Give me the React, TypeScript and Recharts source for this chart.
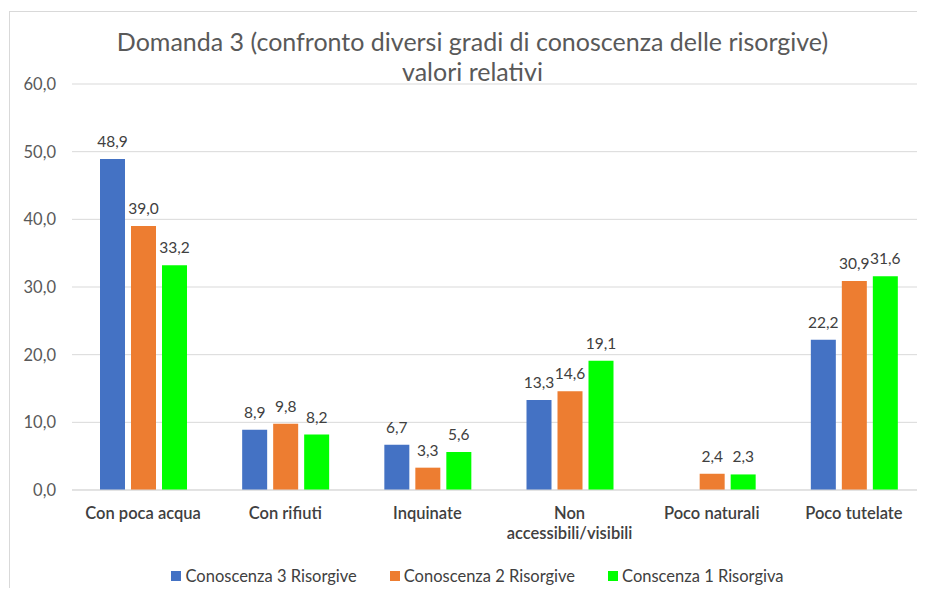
import { BarChart, Bar, XAxis, YAxis, CartesianGrid, Legend, LabelList, Text } from "recharts";

const categories = [
  "Con poca acqua",
  "Con rifiuti",
  "Inquinate",
  "Non accessibili/visibili",
  "Poco naturali",
  "Poco tutelate",
];
const conoscenza3 = [48.9, 8.9, 6.7, 13.3, null, 22.2];
const conoscenza2 = [39.0, 9.8, 3.3, 14.6, 2.4, 30.9];
const conoscenza1 = [33.2, 8.2, 5.6, 19.1, 2.3, 31.6];
const yTicks = [0, 10, 20, 30, 40, 50, 60];

const series = [
  { key: "c3", name: "Conoscenza 3 Risorgive", color: "#4472C4" },
  { key: "c2", name: "Conoscenza 2 Risorgive", color: "#ED7D31" },
  { key: "c1", name: "Conscenza 1 Risorgiva", color: "#00FF00" },
];

const data = categories.map((name, i) => ({
  name,
  c3: conoscenza3[i],
  c2: conoscenza2[i],
  c1: conoscenza1[i],
}));

const FONT = "Lato, 'Open Sans', sans-serif";
const fmt = (v: any) => (v == null ? "" : Number(v).toFixed(1).replace(".", ","));

// category label, wraps long names like Excel does
const CategoryTick = (props: any) => {
  const { x, y, payload } = props;
  return (
    <Text
      x={x}
      y={y}
      width={140}
      textAnchor="middle"
      verticalAnchor="start"
      lineHeight={20}
      fontSize={16.5}
      fontWeight={600}
      fill="#404040"
      fontFamily={FONT}
    >
      {payload.value}
    </Text>
  );
};

const LegendContent = () => (
  <div
    style={{
      display: "flex",
      justifyContent: "center",
      gap: 33,
      paddingLeft: 22,
      fontFamily: FONT,
      fontSize: 16.5,
      color: "#404040",
    }}
  >
    {series.map((s) => (
      <div key={s.key} style={{ display: "flex", alignItems: "center", gap: 4 }}>
        <span style={{ width: 10, height: 10, background: s.color, display: "inline-block" }} />
        <span>{s.name}</span>
      </div>
    ))}
  </div>
);

export default function App() {
  return (
    <div style={{ position: "relative", width: 909, height: 580, background: "#fff" }}>
      <style>{"html, body { overflow: hidden; }"}</style>
      <div style={{ position: "absolute", left: 0, top: 0, width: 917, height: 580, overflow: "hidden" }}>
        {/* chart frame, only left and top edges are in view */}
        <div style={{ position: "absolute", left: 1, top: 3, width: 1, height: 600, background: "#d9d9d9" }} />
        <div style={{ position: "absolute", left: 1, top: 3, width: 950, height: 1, background: "#d9d9d9" }} />
        <div
          style={{
            position: "absolute",
            left: 0,
            top: 18,
            width: 929,
            textAlign: "center",
            fontFamily: FONT,
            fontSize: 25,
            lineHeight: "30px",
            color: "#595959",
            zIndex: 1,
          }}
        >
          Domanda 3 (confronto diversi gradi di conoscenza delle risorgive)
          <br />
          valori relativi
        </div>
        <BarChart
          width={917}
          height={580}
          data={data}
          margin={{ top: 76, right: 0, bottom: 68, left: 0 }}
          barSize={25}
          barGap={6}
        >
          <CartesianGrid vertical={false} stroke="#d9d9d9" />
          <XAxis
            dataKey="name"
            axisLine={{ stroke: "#d9d9d9" }}
            tickLine={false}
            tickSize={6}
            tickMargin={11}
            interval={0}
            tick={<CategoryTick />}
          />
          <YAxis
            domain={[0, 60]}
            ticks={yTicks}
            width={64}
            axisLine={false}
            tickLine={false}
            tickSize={6}
            tickMargin={10}
            tickFormatter={fmt}
            tick={{ fill: "#595959", fontSize: 16.5, fontFamily: FONT }}
          />
          <Legend
            verticalAlign="middle"
            content={<LegendContent />}
            wrapperStyle={{ top: 558, left: 0, width: 917 }}
          />
          {series.map((s) => (
            <Bar key={s.key} dataKey={s.key} name={s.name} fill={s.color} isAnimationActive={false}>
              <LabelList
                dataKey={s.key}
                position="top"
                offset={12}
                formatter={fmt}
                style={{ fill: "#404040", fontSize: 15.5, fontFamily: FONT }}
              />
            </Bar>
          ))}
        </BarChart>
      </div>
    </div>
  );
}
